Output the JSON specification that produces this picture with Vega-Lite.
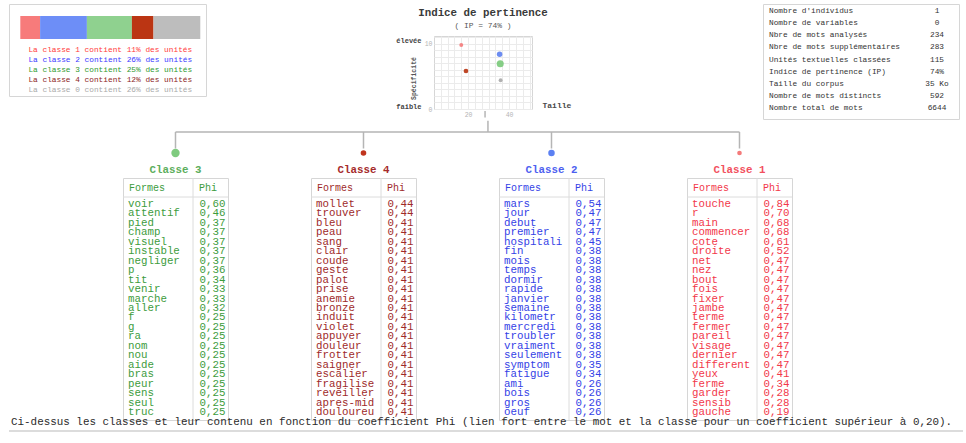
{
 "$schema": "https://vega.github.io/schema/vega-lite/v6.json",
 "background": "white",
 "padding": {"left": 8, "top": 3, "right": 4, "bottom": 4},
 "spacing": 0,
 "resolve": {"scale": {"color": "independent", "size": "independent"}},
 "config": {
  "font": "Liberation Mono",
  "view": {"stroke": "#d6d6d6"},
  "locale": {"number": {"decimal": ",", "thousands": " ", "grouping": [3], "currency": ["", ""]}}
 },
 "datasets": {
  "classes": [
   {"classe": "1", "nom": "Classe 1", "ligne": 1, "pct": 11, "libelle": "La classe 1 contient 11% des unités", "taille": 16.7, "specificite": 9.82, "poids": 5, "ordre": 4},
   {"classe": "2", "nom": "Classe 2", "ligne": 2, "pct": 26, "libelle": "La classe 2 contient 26% des unités", "taille": 35.4, "specificite": 8.39, "poids": 7, "ordre": 3},
   {"classe": "3", "nom": "Classe 3", "ligne": 3, "pct": 25, "libelle": "La classe 3 contient 25% des unités", "taille": 35.7, "specificite": 6.95, "poids": 9, "ordre": 1},
   {"classe": "4", "nom": "Classe 4", "ligne": 4, "pct": 12, "libelle": "La classe 4 contient 12% des unités", "taille": 19.0, "specificite": 5.83, "poids": 6, "ordre": 2},
   {"classe": "0", "nom": "Classe 0", "ligne": 5, "pct": 26, "libelle": "La classe 0 contient 26% des unités", "taille": 35.9, "specificite": 4.4, "poids": 5, "ordre": null}
  ],
  "stats": [
   {"ordre": 1, "libelle": "Nombre d'individus", "valeur": "1"},
   {"ordre": 2, "libelle": "Nombre de variables", "valeur": "0"},
   {"ordre": 3, "libelle": "Nbre de mots analysés", "valeur": "234"},
   {"ordre": 4, "libelle": "Nbre de mots supplémentaires", "valeur": "283"},
   {"ordre": 5, "libelle": "Unités textuelles classées", "valeur": "115"},
   {"ordre": 6, "libelle": "Indice de pertinence (IP)", "valeur": "74%"},
   {"ordre": 7, "libelle": "Taille du corpus", "valeur": "35 Ko"},
   {"ordre": 8, "libelle": "Nombre de mots distincts", "valeur": "592"},
   {"ordre": 9, "libelle": "Nombre total de mots", "valeur": "6644"}
  ],
  "mots": [
   {"classe": "3", "rang": 1, "forme": "voir", "phi": 0.60},
   {"classe": "3", "rang": 2, "forme": "attentif", "phi": 0.46},
   {"classe": "3", "rang": 3, "forme": "pied", "phi": 0.37},
   {"classe": "3", "rang": 4, "forme": "champ", "phi": 0.37},
   {"classe": "3", "rang": 5, "forme": "visuel", "phi": 0.37},
   {"classe": "3", "rang": 6, "forme": "instable", "phi": 0.37},
   {"classe": "3", "rang": 7, "forme": "negliger", "phi": 0.37},
   {"classe": "3", "rang": 8, "forme": "p", "phi": 0.36},
   {"classe": "3", "rang": 9, "forme": "tit", "phi": 0.34},
   {"classe": "3", "rang": 10, "forme": "venir", "phi": 0.33},
   {"classe": "3", "rang": 11, "forme": "marche", "phi": 0.33},
   {"classe": "3", "rang": 12, "forme": "aller", "phi": 0.32},
   {"classe": "3", "rang": 13, "forme": "f", "phi": 0.25},
   {"classe": "3", "rang": 14, "forme": "g", "phi": 0.25},
   {"classe": "3", "rang": 15, "forme": "ra", "phi": 0.25},
   {"classe": "3", "rang": 16, "forme": "nom", "phi": 0.25},
   {"classe": "3", "rang": 17, "forme": "nou", "phi": 0.25},
   {"classe": "3", "rang": 18, "forme": "aide", "phi": 0.25},
   {"classe": "3", "rang": 19, "forme": "bras", "phi": 0.25},
   {"classe": "3", "rang": 20, "forme": "peur", "phi": 0.25},
   {"classe": "3", "rang": 21, "forme": "sens", "phi": 0.25},
   {"classe": "3", "rang": 22, "forme": "seul", "phi": 0.25},
   {"classe": "3", "rang": 23, "forme": "truc", "phi": 0.25},
   {"classe": "4", "rang": 1, "forme": "mollet", "phi": 0.44},
   {"classe": "4", "rang": 2, "forme": "trouver", "phi": 0.44},
   {"classe": "4", "rang": 3, "forme": "bleu", "phi": 0.41},
   {"classe": "4", "rang": 4, "forme": "peau", "phi": 0.41},
   {"classe": "4", "rang": 5, "forme": "sang", "phi": 0.41},
   {"classe": "4", "rang": 6, "forme": "clair", "phi": 0.41},
   {"classe": "4", "rang": 7, "forme": "coude", "phi": 0.41},
   {"classe": "4", "rang": 8, "forme": "geste", "phi": 0.41},
   {"classe": "4", "rang": 9, "forme": "palot", "phi": 0.41},
   {"classe": "4", "rang": 10, "forme": "prise", "phi": 0.41},
   {"classe": "4", "rang": 11, "forme": "anemie", "phi": 0.41},
   {"classe": "4", "rang": 12, "forme": "bronze", "phi": 0.41},
   {"classe": "4", "rang": 13, "forme": "induit", "phi": 0.41},
   {"classe": "4", "rang": 14, "forme": "violet", "phi": 0.41},
   {"classe": "4", "rang": 15, "forme": "appuyer", "phi": 0.41},
   {"classe": "4", "rang": 16, "forme": "douleur", "phi": 0.41},
   {"classe": "4", "rang": 17, "forme": "frotter", "phi": 0.41},
   {"classe": "4", "rang": 18, "forme": "saigner", "phi": 0.41},
   {"classe": "4", "rang": 19, "forme": "escalier", "phi": 0.41},
   {"classe": "4", "rang": 20, "forme": "fragilise", "phi": 0.41},
   {"classe": "4", "rang": 21, "forme": "reveiller", "phi": 0.41},
   {"classe": "4", "rang": 22, "forme": "apres-mid", "phi": 0.41},
   {"classe": "4", "rang": 23, "forme": "douloureu", "phi": 0.41},
   {"classe": "2", "rang": 1, "forme": "mars", "phi": 0.54},
   {"classe": "2", "rang": 2, "forme": "jour", "phi": 0.47},
   {"classe": "2", "rang": 3, "forme": "debut", "phi": 0.47},
   {"classe": "2", "rang": 4, "forme": "premier", "phi": 0.47},
   {"classe": "2", "rang": 5, "forme": "hospitali", "phi": 0.45},
   {"classe": "2", "rang": 6, "forme": "fin", "phi": 0.38},
   {"classe": "2", "rang": 7, "forme": "mois", "phi": 0.38},
   {"classe": "2", "rang": 8, "forme": "temps", "phi": 0.38},
   {"classe": "2", "rang": 9, "forme": "dormir", "phi": 0.38},
   {"classe": "2", "rang": 10, "forme": "rapide", "phi": 0.38},
   {"classe": "2", "rang": 11, "forme": "janvier", "phi": 0.38},
   {"classe": "2", "rang": 12, "forme": "semaine", "phi": 0.38},
   {"classe": "2", "rang": 13, "forme": "kilometr", "phi": 0.38},
   {"classe": "2", "rang": 14, "forme": "mercredi", "phi": 0.38},
   {"classe": "2", "rang": 15, "forme": "troubler", "phi": 0.38},
   {"classe": "2", "rang": 16, "forme": "vraiment", "phi": 0.38},
   {"classe": "2", "rang": 17, "forme": "seulement", "phi": 0.38},
   {"classe": "2", "rang": 18, "forme": "symptom", "phi": 0.35},
   {"classe": "2", "rang": 19, "forme": "fatigue", "phi": 0.34},
   {"classe": "2", "rang": 20, "forme": "ami", "phi": 0.26},
   {"classe": "2", "rang": 21, "forme": "bois", "phi": 0.26},
   {"classe": "2", "rang": 22, "forme": "gros", "phi": 0.26},
   {"classe": "2", "rang": 23, "forme": "oeuf", "phi": 0.26},
   {"classe": "1", "rang": 1, "forme": "touche", "phi": 0.84},
   {"classe": "1", "rang": 2, "forme": "r", "phi": 0.70},
   {"classe": "1", "rang": 3, "forme": "main", "phi": 0.68},
   {"classe": "1", "rang": 4, "forme": "commencer", "phi": 0.68},
   {"classe": "1", "rang": 5, "forme": "cote", "phi": 0.61},
   {"classe": "1", "rang": 6, "forme": "droite", "phi": 0.52},
   {"classe": "1", "rang": 7, "forme": "net", "phi": 0.47},
   {"classe": "1", "rang": 8, "forme": "nez", "phi": 0.47},
   {"classe": "1", "rang": 9, "forme": "bout", "phi": 0.47},
   {"classe": "1", "rang": 10, "forme": "fois", "phi": 0.47},
   {"classe": "1", "rang": 11, "forme": "fixer", "phi": 0.47},
   {"classe": "1", "rang": 12, "forme": "jambe", "phi": 0.47},
   {"classe": "1", "rang": 13, "forme": "terme", "phi": 0.47},
   {"classe": "1", "rang": 14, "forme": "fermer", "phi": 0.47},
   {"classe": "1", "rang": 15, "forme": "pareil", "phi": 0.47},
   {"classe": "1", "rang": 16, "forme": "visage", "phi": 0.47},
   {"classe": "1", "rang": 17, "forme": "dernier", "phi": 0.47},
   {"classe": "1", "rang": 18, "forme": "different", "phi": 0.47},
   {"classe": "1", "rang": 19, "forme": "yeux", "phi": 0.41},
   {"classe": "1", "rang": 20, "forme": "ferme", "phi": 0.34},
   {"classe": "1", "rang": 21, "forme": "garder", "phi": 0.28},
   {"classe": "1", "rang": 22, "forme": "sensib", "phi": 0.28},
   {"classe": "1", "rang": 23, "forme": "gauche", "phi": 0.19}
  ]
 },
 "vconcat": [
  {
   "spacing": 188,
   "resolve": {"scale": {"color": "independent", "size": "independent"}},
   "hconcat": [
    {
     "width": 197,
     "height": 92,
     "data": {"name": "classes"},
     "resolve": {"scale": {"color": "independent"}},
     "layer": [
      {
       "transform": [{"stack": "pct", "groupby": [], "sort": [{"field": "ligne", "order": "ascending"}], "as": ["debut", "fin"]}],
       "mark": {"type": "rect"},
       "encoding": {
        "x": {"field": "debut", "type": "quantitative", "scale": {"domain": [-6.28, 103.17], "nice": false, "zero": false}, "axis": null},
        "x2": {"field": "fin"},
        "y": {"datum": -2.376, "type": "quantitative", "scale": {"domain": [-3.568, 5.568], "reverse": true, "nice": false, "zero": false}, "axis": null},
        "y2": {"datum": -0.092},
        "color": {"field": "classe", "type": "nominal", "scale": {"domain": ["1", "2", "3", "4", "0"], "range": ["#f77b7b", "#6d8ef7", "#8fd18f", "#bb3513", "#bdbdbd"]}, "legend": null}
       }
      },
      {
       "mark": {"type": "text", "fontSize": 7.8, "align": "center"},
       "encoding": {
        "x": {"datum": 50, "type": "quantitative", "scale": {"domain": [-6.28, 103.17], "nice": false, "zero": false}, "axis": null},
        "y": {"field": "ligne", "type": "quantitative", "scale": {"domain": [-3.568, 5.568], "reverse": true, "nice": false, "zero": false}, "axis": null},
        "text": {"field": "libelle"},
        "color": {"field": "classe", "type": "nominal", "scale": {"domain": ["1", "2", "3", "4", "0"], "range": ["#ff3b3b", "#3b3bff", "#2f9a2f", "#8c1d1d", "#aaaaaa"]}, "legend": null}
       }
      }
     ]
    },
    {
     "spacing": 0,
     "bounds": "flush",
     "resolve": {"scale": {"color": "independent", "size": "independent"}},
     "vconcat": [
      {
       "width": 140,
       "height": 32,
       "view": {"stroke": null},
       "layer": [
        {
         "data": {"values": [{"ligne": "titre", "texte": "Indice de pertinence"}]},
         "mark": {"type": "text", "fontSize": 10.8, "fontWeight": "bold", "color": "#3a3a3a", "dy": 1, "dx": -21},
         "encoding": {
          "y": {"field": "ligne", "type": "nominal", "scale": {"domain": ["titre", "ip"]}, "axis": null},
          "text": {"field": "texte"}
         }
        },
        {
         "data": {"values": [{"ligne": "ip", "texte": "( IP = 74% )"}]},
         "mark": {"type": "text", "fontSize": 7.9, "color": "#555555", "dy": -2, "dx": -21},
         "encoding": {
          "y": {"field": "ligne", "type": "nominal", "scale": {"domain": ["titre", "ip"]}, "axis": null},
          "text": {"field": "texte"}
         }
        }
       ]
      },
      {
       "width": 98,
       "height": 73,
       "resolve": {"axis": {"y": "independent"}},
       "layer": [
        {
         "data": {"name": "classes"},
         "mark": {"type": "circle", "opacity": 0.9},
         "encoding": {
          "x": {"field": "taille", "type": "quantitative", "scale": {"domain": [3.4, 51.2], "nice": false, "zero": false},
           "axis": {"values": [6.667, 10, 13.333, 16.667, 20, 23.333, 26.667, 30, 33.333, 36.667, 40, 43.333, 46.667, 50], "grid": true, "gridColor": "#ebebeb", "domain": false, "ticks": false, "labelExpr": "datum.value == 20 || datum.value == 40 ? datum.label : ''", "labelColor": "#b5b5b5", "labelFontSize": 6.5, "labelPadding": 2, "title": "Taille", "titleX": 108, "titleY": -4, "titleAlign": "left", "titleBaseline": "middle", "titleAngle": 0, "titleFontSize": 8, "titleFontWeight": "bold", "titleColor": "#4a4a4a"}},
          "y": {"field": "specificite", "type": "quantitative", "scale": {"domain": [0, 11.2], "nice": false, "zero": false},
           "axis": {"orient": "left", "values": [0, 1, 2, 3, 4, 5, 6, 7, 8, 9, 10, 11], "grid": true, "gridColor": "#ebebeb", "domain": false, "ticks": false, "labelExpr": "datum.value == 0 || datum.value == 10 ? datum.label : ''", "labelColor": "#b5b5b5", "labelFontSize": 6.5, "labelPadding": 2, "title": "Spécificité", "titleX": -21, "titleY": 42, "titleAngle": -90, "titleAlign": "center", "titleBaseline": "middle", "titleFontSize": 6.5, "titleFontWeight": "bold", "titleColor": "#555555"}},
          "size": {"field": "poids", "type": "quantitative", "scale": {"type": "pow", "exponent": 2, "domain": [0, 9], "range": [0, 50]}, "legend": null},
          "color": {"field": "classe", "type": "nominal", "scale": {"domain": ["1", "2", "3", "4", "0"], "range": ["#f47a7a", "#5c7ff0", "#79c979", "#b8330f", "#a8a8a8"]}, "legend": null}
         }
        },
        {
         "data": {"values": [{}]},
         "mark": {"type": "rule", "color": "#b5b5b5", "strokeWidth": 1.5, "clip": false},
         "encoding": {
          "x": {"datum": 28.3, "type": "quantitative", "scale": {"domain": [3.4, 51.2], "nice": false, "zero": false},
           "axis": {"values": [6.667, 10, 13.333, 16.667, 20, 23.333, 26.667, 30, 33.333, 36.667, 40, 43.333, 46.667, 50], "grid": true, "gridColor": "#ebebeb", "domain": false, "ticks": false, "labelExpr": "datum.value == 20 || datum.value == 40 ? datum.label : ''", "labelColor": "#b5b5b5", "labelFontSize": 6.5, "labelPadding": 2, "title": "Taille", "titleX": 108, "titleY": -4, "titleAlign": "left", "titleBaseline": "middle", "titleAngle": 0, "titleFontSize": 8, "titleFontWeight": "bold", "titleColor": "#4a4a4a"}},
          "y": {"datum": -0.31, "type": "quantitative", "scale": {"domain": [0, 11.2], "nice": false, "zero": false},
           "axis": {"orient": "left", "values": [0, 10], "labelExpr": "datum.value == 10 ? '   élevée' : '   faible'", "grid": false, "ticks": false, "domain": false, "labelPadding": 13, "labelFontSize": 7, "labelFontWeight": "bold", "labelColor": "#444444", "labelBaseline": "bottom", "title": null}},
          "y2": {"datum": -1.304}
         }
        }
       ]
      }
     ]
    },
    {
     "width": 196,
     "height": 115,
     "data": {"name": "stats"},
     "layer": [
      {
       "mark": {"type": "text", "align": "left", "fontSize": 7.8, "color": "#333333", "dx": 6},
       "encoding": {
        "x": {"datum": "libelle", "type": "nominal", "bandPosition": 0, "scale": {"type": "band", "domain": ["libelle", "valeur"], "paddingInner": 0.7105, "paddingOuter": 0, "align": 0}, "axis": null},
        "y": {"field": "ordre", "type": "quantitative", "scale": {"domain": [0.4243, 9.882], "reverse": true, "nice": false, "zero": false}, "axis": null},
        "text": {"field": "libelle"}
       }
      },
      {
       "mark": {"type": "text", "align": "center", "fontSize": 7.8, "color": "#333333"},
       "encoding": {
        "x": {"datum": "valeur", "type": "nominal", "bandPosition": 0.5, "scale": {"type": "band", "domain": ["libelle", "valeur"], "paddingInner": 0.7105, "paddingOuter": 0, "align": 0}, "axis": null},
        "y": {"field": "ordre", "type": "quantitative", "scale": {"domain": [0.4243, 9.882], "reverse": true, "nice": false, "zero": false}, "axis": null},
        "text": {"field": "valeur"}
       }
      }
     ]
    }
   ]
  },
  {
   "width": 899,
   "height": 57,
   "view": {"stroke": null},
   "data": {"name": "classes"},
   "resolve": {"scale": {"color": "independent"}},
   "layer": [
    {
     "data": {"values": [{}]},
     "mark": {"type": "rule", "color": "#b5b5b5", "strokeWidth": 1.5},
     "encoding": {
      "x": {"datum": 2.662, "type": "quantitative", "scale": {"domain": [0.1144, 4.8963], "nice": false, "zero": false}, "axis": null},
      "y": {"datum": 0.075, "type": "quantitative", "scale": {"domain": [0, 5.7], "reverse": true, "nice": false, "zero": false}, "axis": null},
      "y2": {"datum": 1.2}
     }
    },
    {
     "mark": {"type": "rule", "color": "#b5b5b5", "strokeWidth": 1.5},
     "encoding": {
      "x": {"aggregate": "min", "field": "ordre", "type": "quantitative", "scale": {"domain": [0.1144, 4.8963], "nice": false, "zero": false}, "axis": null},
      "x2": {"aggregate": "max", "field": "ordre"},
      "y": {"datum": 1.2, "type": "quantitative", "scale": {"domain": [0, 5.7], "reverse": true, "nice": false, "zero": false}, "axis": null}
     }
    },
    {
     "transform": [{"filter": "datum.ordre != null"}],
     "mark": {"type": "rule", "color": "#b5b5b5", "strokeWidth": 1.5},
     "encoding": {
      "x": {"field": "ordre", "type": "quantitative", "scale": {"domain": [0.1144, 4.8963], "nice": false, "zero": false}, "axis": null},
      "y": {"datum": 1.2, "type": "quantitative", "scale": {"domain": [0, 5.7], "reverse": true, "nice": false, "zero": false}, "axis": null},
      "y2": {"datum": 2.85}
     }
    },
    {
     "transform": [{"filter": "datum.ordre != null"}],
     "mark": {"type": "circle", "opacity": 1},
     "encoding": {
      "x": {"field": "ordre", "type": "quantitative", "scale": {"domain": [0.1144, 4.8963], "nice": false, "zero": false}, "axis": null},
      "y": {"datum": 3.3, "type": "quantitative", "scale": {"domain": [0, 5.7], "reverse": true, "nice": false, "zero": false}, "axis": null},
      "size": {"field": "poids", "type": "quantitative", "scale": {"type": "pow", "exponent": 2, "domain": [0, 9], "range": [0, 70]}, "legend": null},
      "color": {"field": "classe", "type": "nominal", "scale": {"domain": ["3", "4", "2", "1"], "range": ["#7fcb7f", "#c0341d", "#5b80f2", "#f47a7a"]}, "legend": null}
     }
    },
    {
     "transform": [{"filter": "datum.ordre != null"}],
     "mark": {"type": "text", "fontSize": 10.8, "fontWeight": "bold"},
     "encoding": {
      "x": {"field": "ordre", "type": "quantitative", "scale": {"domain": [0.1144, 4.8963], "nice": false, "zero": false}, "axis": null},
      "y": {"datum": 4.95, "type": "quantitative", "scale": {"domain": [0, 5.7], "reverse": true, "nice": false, "zero": false}, "axis": null},
      "text": {"field": "nom"},
      "color": {"field": "classe", "type": "nominal", "scale": {"domain": ["3", "4", "2", "1"], "range": ["#5cae5c", "#a52a2a", "#4d5ff0", "#f2505e"]}, "legend": null}
     }
    }
   ]
  },
  {
   "spacing": 83,
   "bounds": "flush",
   "title": {"text": "Ci-dessus les classes et leur contenu en fonction du coefficient Phi (lien fort entre le mot et la classe pour un coefficient supérieur à 0,20).", "orient": "bottom", "anchor": "start", "frame": "group", "offset": -4.8, "dx": 2, "font": "Liberation Mono", "fontSize": 10.9, "fontWeight": "normal", "color": "#2b2b2b"},
   "hconcat": [
    {"width": 31, "height": 242, "view": {"stroke": null}, "data": {"values": [{}]}, "mark": {"type": "text"}, "encoding": {}},
    {
     "width": 105, "height": 242,
     "layer": [
      {"data": {"values": [{"colonne": "Phi"}]}, "mark": {"type": "rule", "color": "#dcdcdc"},
       "encoding": {"x": {"field": "colonne", "type": "nominal", "bandPosition": 0, "scale": {"type": "band", "domain": ["Formes", "Phi"], "paddingInner": 0.5, "paddingOuter": 0, "align": 0}, "axis": null}}},
      {"data": {"values": [{}]}, "mark": {"type": "rule", "color": "#dcdcdc"},
       "encoding": {"y": {"datum": 0.26, "type": "quantitative", "scale": {"domain": [-1.75, 23.85], "reverse": true, "nice": false, "zero": false}, "axis": null}}},
      {"data": {"values": [{"colonne": "Formes"}, {"colonne": "Phi"}]}, "mark": {"type": "text", "align": "left", "dx": 6, "fontSize": 10, "color": "#3d9c3d"},
       "encoding": {"x": {"field": "colonne", "type": "nominal", "bandPosition": 0, "scale": {"type": "band", "domain": ["Formes", "Phi"], "paddingInner": 0.5, "paddingOuter": 0, "align": 0}, "axis": null}, "y": {"datum": -0.69, "type": "quantitative", "scale": {"domain": [-1.75, 23.85], "reverse": true, "nice": false, "zero": false}, "axis": null}, "text": {"field": "colonne"}}},
      {"data": {"name": "mots"}, "transform": [{"filter": "datum.classe == '3'"}], "mark": {"type": "text", "align": "left", "dx": 5, "fontSize": 10.8, "color": "#3d9c3d"},
       "encoding": {"x": {"datum": "Formes", "type": "nominal", "bandPosition": 0, "scale": {"type": "band", "domain": ["Formes", "Phi"], "paddingInner": 0.5, "paddingOuter": 0, "align": 0}, "axis": null}, "y": {"field": "rang", "type": "quantitative", "scale": {"domain": [-1.75, 23.85], "reverse": true, "nice": false, "zero": false}, "axis": null}, "text": {"field": "forme"}}},
      {"data": {"name": "mots"}, "transform": [{"filter": "datum.classe == '3'"}], "mark": {"type": "text", "align": "right", "dx": -2.5, "fontSize": 10.8, "color": "#3d9c3d"},
       "encoding": {"x": {"datum": "Phi", "type": "nominal", "bandPosition": 1, "scale": {"type": "band", "domain": ["Formes", "Phi"], "paddingInner": 0.5, "paddingOuter": 0, "align": 0}, "axis": null}, "y": {"field": "rang", "type": "quantitative", "scale": {"domain": [-1.75, 23.85], "reverse": true, "nice": false, "zero": false}, "axis": null}, "text": {"field": "phi", "type": "quantitative", "format": ".2f"}}}
     ]
    },
    {
     "width": 105, "height": 242,
     "layer": [
      {"data": {"values": [{"colonne": "Phi"}]}, "mark": {"type": "rule", "color": "#dcdcdc"},
       "encoding": {"x": {"field": "colonne", "type": "nominal", "bandPosition": 0, "scale": {"type": "band", "domain": ["Formes", "Phi"], "paddingInner": 0.5, "paddingOuter": 0, "align": 0}, "axis": null}}},
      {"data": {"values": [{}]}, "mark": {"type": "rule", "color": "#dcdcdc"},
       "encoding": {"y": {"datum": 0.26, "type": "quantitative", "scale": {"domain": [-1.75, 23.85], "reverse": true, "nice": false, "zero": false}, "axis": null}}},
      {"data": {"values": [{"colonne": "Formes"}, {"colonne": "Phi"}]}, "mark": {"type": "text", "align": "left", "dx": 6, "fontSize": 10, "color": "#9e2a2a"},
       "encoding": {"x": {"field": "colonne", "type": "nominal", "bandPosition": 0, "scale": {"type": "band", "domain": ["Formes", "Phi"], "paddingInner": 0.5, "paddingOuter": 0, "align": 0}, "axis": null}, "y": {"datum": -0.69, "type": "quantitative", "scale": {"domain": [-1.75, 23.85], "reverse": true, "nice": false, "zero": false}, "axis": null}, "text": {"field": "colonne"}}},
      {"data": {"name": "mots"}, "transform": [{"filter": "datum.classe == '4'"}], "mark": {"type": "text", "align": "left", "dx": 5, "fontSize": 10.8, "color": "#9e2a2a"},
       "encoding": {"x": {"datum": "Formes", "type": "nominal", "bandPosition": 0, "scale": {"type": "band", "domain": ["Formes", "Phi"], "paddingInner": 0.5, "paddingOuter": 0, "align": 0}, "axis": null}, "y": {"field": "rang", "type": "quantitative", "scale": {"domain": [-1.75, 23.85], "reverse": true, "nice": false, "zero": false}, "axis": null}, "text": {"field": "forme"}}},
      {"data": {"name": "mots"}, "transform": [{"filter": "datum.classe == '4'"}], "mark": {"type": "text", "align": "right", "dx": -2.5, "fontSize": 10.8, "color": "#9e2a2a"},
       "encoding": {"x": {"datum": "Phi", "type": "nominal", "bandPosition": 1, "scale": {"type": "band", "domain": ["Formes", "Phi"], "paddingInner": 0.5, "paddingOuter": 0, "align": 0}, "axis": null}, "y": {"field": "rang", "type": "quantitative", "scale": {"domain": [-1.75, 23.85], "reverse": true, "nice": false, "zero": false}, "axis": null}, "text": {"field": "phi", "type": "quantitative", "format": ".2f"}}}
     ]
    },
    {
     "width": 105, "height": 242,
     "layer": [
      {"data": {"values": [{"colonne": "Phi"}]}, "mark": {"type": "rule", "color": "#dcdcdc"},
       "encoding": {"x": {"field": "colonne", "type": "nominal", "bandPosition": 0, "scale": {"type": "band", "domain": ["Formes", "Phi"], "paddingInner": 0.5, "paddingOuter": 0, "align": 0}, "axis": null}}},
      {"data": {"values": [{}]}, "mark": {"type": "rule", "color": "#dcdcdc"},
       "encoding": {"y": {"datum": 0.26, "type": "quantitative", "scale": {"domain": [-1.75, 23.85], "reverse": true, "nice": false, "zero": false}, "axis": null}}},
      {"data": {"values": [{"colonne": "Formes"}, {"colonne": "Phi"}]}, "mark": {"type": "text", "align": "left", "dx": 6, "fontSize": 10, "color": "#3442e6"},
       "encoding": {"x": {"field": "colonne", "type": "nominal", "bandPosition": 0, "scale": {"type": "band", "domain": ["Formes", "Phi"], "paddingInner": 0.5, "paddingOuter": 0, "align": 0}, "axis": null}, "y": {"datum": -0.69, "type": "quantitative", "scale": {"domain": [-1.75, 23.85], "reverse": true, "nice": false, "zero": false}, "axis": null}, "text": {"field": "colonne"}}},
      {"data": {"name": "mots"}, "transform": [{"filter": "datum.classe == '2'"}], "mark": {"type": "text", "align": "left", "dx": 5, "fontSize": 10.8, "color": "#3442e6"},
       "encoding": {"x": {"datum": "Formes", "type": "nominal", "bandPosition": 0, "scale": {"type": "band", "domain": ["Formes", "Phi"], "paddingInner": 0.5, "paddingOuter": 0, "align": 0}, "axis": null}, "y": {"field": "rang", "type": "quantitative", "scale": {"domain": [-1.75, 23.85], "reverse": true, "nice": false, "zero": false}, "axis": null}, "text": {"field": "forme"}}},
      {"data": {"name": "mots"}, "transform": [{"filter": "datum.classe == '2'"}], "mark": {"type": "text", "align": "right", "dx": -2.5, "fontSize": 10.8, "color": "#3442e6"},
       "encoding": {"x": {"datum": "Phi", "type": "nominal", "bandPosition": 1, "scale": {"type": "band", "domain": ["Formes", "Phi"], "paddingInner": 0.5, "paddingOuter": 0, "align": 0}, "axis": null}, "y": {"field": "rang", "type": "quantitative", "scale": {"domain": [-1.75, 23.85], "reverse": true, "nice": false, "zero": false}, "axis": null}, "text": {"field": "phi", "type": "quantitative", "format": ".2f"}}}
     ]
    },
    {
     "width": 105, "height": 242,
     "layer": [
      {"data": {"values": [{"colonne": "Phi"}]}, "mark": {"type": "rule", "color": "#dcdcdc"},
       "encoding": {"x": {"field": "colonne", "type": "nominal", "bandPosition": 0, "scale": {"type": "band", "domain": ["Formes", "Phi"], "paddingInner": 0.5, "paddingOuter": 0, "align": 0}, "axis": null}}},
      {"data": {"values": [{}]}, "mark": {"type": "rule", "color": "#dcdcdc"},
       "encoding": {"y": {"datum": 0.26, "type": "quantitative", "scale": {"domain": [-1.75, 23.85], "reverse": true, "nice": false, "zero": false}, "axis": null}}},
      {"data": {"values": [{"colonne": "Formes"}, {"colonne": "Phi"}]}, "mark": {"type": "text", "align": "left", "dx": 6, "fontSize": 10, "color": "#f2384a"},
       "encoding": {"x": {"field": "colonne", "type": "nominal", "bandPosition": 0, "scale": {"type": "band", "domain": ["Formes", "Phi"], "paddingInner": 0.5, "paddingOuter": 0, "align": 0}, "axis": null}, "y": {"datum": -0.69, "type": "quantitative", "scale": {"domain": [-1.75, 23.85], "reverse": true, "nice": false, "zero": false}, "axis": null}, "text": {"field": "colonne"}}},
      {"data": {"name": "mots"}, "transform": [{"filter": "datum.classe == '1'"}], "mark": {"type": "text", "align": "left", "dx": 5, "fontSize": 10.8, "color": "#f2384a"},
       "encoding": {"x": {"datum": "Formes", "type": "nominal", "bandPosition": 0, "scale": {"type": "band", "domain": ["Formes", "Phi"], "paddingInner": 0.5, "paddingOuter": 0, "align": 0}, "axis": null}, "y": {"field": "rang", "type": "quantitative", "scale": {"domain": [-1.75, 23.85], "reverse": true, "nice": false, "zero": false}, "axis": null}, "text": {"field": "forme"}}},
      {"data": {"name": "mots"}, "transform": [{"filter": "datum.classe == '1'"}], "mark": {"type": "text", "align": "right", "dx": -2.5, "fontSize": 10.8, "color": "#f2384a"},
       "encoding": {"x": {"datum": "Phi", "type": "nominal", "bandPosition": 1, "scale": {"type": "band", "domain": ["Formes", "Phi"], "paddingInner": 0.5, "paddingOuter": 0, "align": 0}, "axis": null}, "y": {"field": "rang", "type": "quantitative", "scale": {"domain": [-1.75, 23.85], "reverse": true, "nice": false, "zero": false}, "axis": null}, "text": {"field": "phi", "type": "quantitative", "format": ".2f"}}}
     ]
    }
   ]
  },
  {
   "width": 954,
   "height": 3,
   "view": {"stroke": null},
   "data": {"values": [{}]},
   "mark": {"type": "rule", "color": "#d0d0d0", "strokeWidth": 1.5},
   "encoding": {
    "y": {"datum": 3, "type": "quantitative", "scale": {"domain": [0, 3], "reverse": true, "nice": false, "zero": false}, "axis": null}
   }
  }
 ]
}
